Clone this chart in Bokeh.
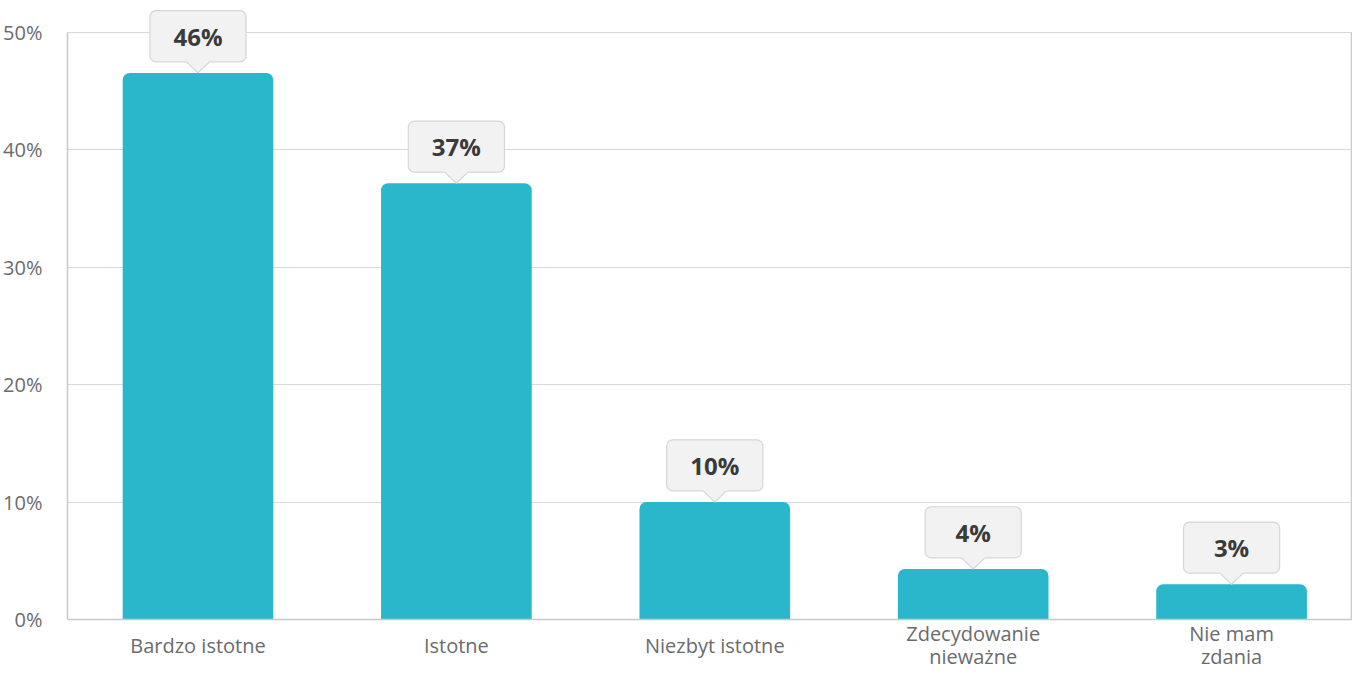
from bokeh.plotting import figure
from bokeh.models import ColumnDataSource, Range1d, FixedTicker, PrintfTickFormatter, Span
from bokeh.core.properties import value
from bokeh.embed import file_html
from bokeh.resources import INLINE

categories = ["Bardzo istotne", "Istotne", "Niezbyt istotne", "Zdecydowanie\nnieważne", "Nie mam\nzdania"]
values = [46.55, 37.15, 10.0, 4.3, 3.0]
labels = ["46%", "37%", "10%", "4%", "3%"]
y_ticks = [0, 10, 20, 30, 40, 50]

positions = list(range(1, len(categories) + 1))

BAR = "#2ab7cc"
FONT = "Open Sans"
Y_MIN, Y_MAX = -4.26, 52.72
X_MIN, X_MAX = 0.495, 5.468

p = figure(width=1352, height=669, output_backend="svg", toolbar_location=None,
           x_range=Range1d(X_MIN, X_MAX), y_range=Range1d(Y_MIN, Y_MAX),
           x_axis_location=None,
           min_border_left=67, min_border_right=0, min_border_top=0, min_border_bottom=0)
p.background_fill_color = "white"
p.border_fill_color = "white"
p.outline_line_color = None

# frame: bottom axis line and right border
p.add_layout(Span(location=0, dimension="width", line_color="#c8c8c8", line_width=1.5))
p.segment(x0=[X_MAX - 0.004], y0=[0], x1=[X_MAX - 0.004], y1=[y_ticks[-1]],
          line_color="#cccccc", line_width=1.5)

src = ColumnDataSource(dict(x=positions, top=values, label=labels))
p.vbar(x="x", top="top", bottom=0, width=0.583, source=src, fill_color=BAR, line_color=None,
       border_radius=(7, 7, 0, 0))

# callouts
gap = 0.95
bh = 4.35
bw = 0.372
hw = 0.045
ext = 0.15
cb = dict(left=[x - bw / 2 for x in positions], right=[x + bw / 2 for x in positions],
          bottom=[v + gap for v in values], top=[v + gap + bh for v in values])
p.quad(source=ColumnDataSource(cb), left="left", right="right", bottom="bottom", top="top",
       fill_color="#f2f2f2", line_color="#d6d6d6", line_width=1.2, border_radius=6)
k = (gap + ext) / gap
tri_xs = [[x - hw * k, x, x + hw * k] for x in positions]
tri_ys = [[v + gap + ext, v, v + gap + ext] for v in values]
p.patches(tri_xs, tri_ys, fill_color="#f2f2f2", line_color=None)
edge_xs = [[x - hw, x, x + hw] for x in positions]
edge_ys = [[v + gap, v, v + gap] for v in values]
p.multi_line(edge_xs, edge_ys, line_color="#d6d6d6", line_width=1.2)

p.text(x="x", y="ty", text="label",
       source=ColumnDataSource(dict(x=positions, ty=[v + gap + bh / 2 for v in values], label=labels)),
       text_font=value(FONT), text_font_style="bold", text_font_size="24px",
       text_color="#3a3a3a", text_align="center", text_baseline="middle")

# category labels under the bars
p.text(x="x", y="y", text="cat",
       source=ColumnDataSource(dict(x=positions, y=[-2.2] * len(positions), cat=categories)),
       text_font=value(FONT), text_font_size="20px", text_color="#6b6b6b",
       text_align="center", text_baseline="middle", text_line_height=0.84)

# axes
p.xgrid.grid_line_color = None
p.ygrid.grid_line_color = "#d9d9d9"
p.ygrid.ticker = FixedTicker(ticks=y_ticks[1:])

p.yaxis.ticker = FixedTicker(ticks=y_ticks)
p.yaxis.bounds = (y_ticks[0], y_ticks[-1])
p.yaxis.formatter = PrintfTickFormatter(format="%d%%")
p.yaxis.axis_line_color = "#c8c8c8"
p.yaxis.axis_line_width = 1.5
p.yaxis.major_tick_line_color = None
p.yaxis.minor_tick_line_color = None
p.yaxis.major_label_text_font = FONT
p.yaxis.major_label_text_font_size = "20px"
p.yaxis.major_label_text_color = "#6b6b6b"
p.yaxis.major_label_standoff = 19

open("out.html", "w").write(file_html(p, INLINE))
